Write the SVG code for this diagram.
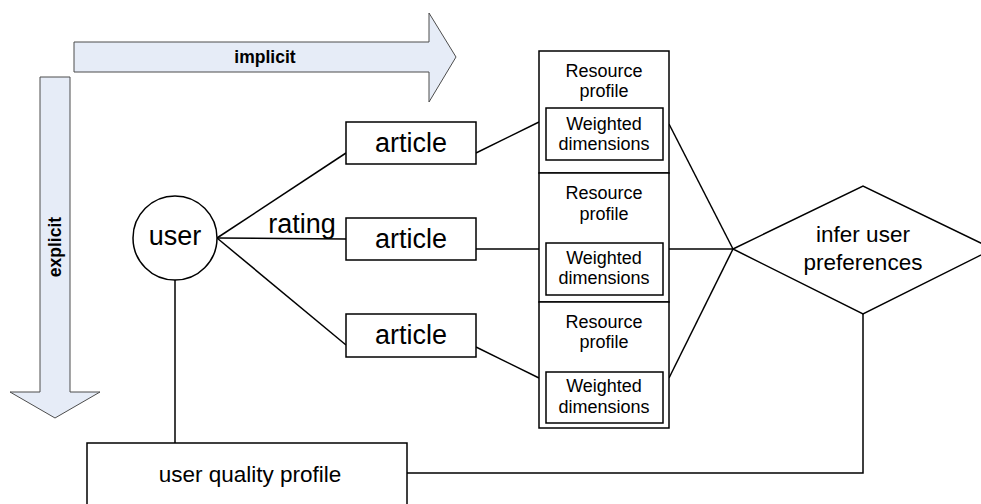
<svg xmlns="http://www.w3.org/2000/svg" width="981" height="504" viewBox="0 0 981 504">
  <style>
    .bg { fill: #ffffff; }
    .arrow { fill: #e6ecf7; stroke: #4d4d4d; stroke-width: 1; }
    .box { fill: #ffffff; stroke: #000000; stroke-width: 1.5; }
    .wire { fill: none; stroke: #000000; stroke-width: 1.5; }
    text { font-family: "Liberation Sans", Arial, sans-serif; fill: #000000; text-anchor: middle; }
    .bold { font-weight: bold; font-size: 17.5px; }
    .big { font-size: 27px; }
    .mid { font-size: 22.5px; }
    .small { font-size: 18px; }
  </style>
  <rect class="bg" x="0" y="0" width="981" height="504"/>

  <!-- direction arrows -->
  <g id="implicit-arrow">
    <polygon class="arrow" points="74,42 429,42 429,13 456,57 429,102 429,72 74,72"/>
    <text class="bold" x="265" y="63">implicit</text>
  </g>
  <g id="explicit-arrow">
    <polygon class="arrow" points="40,77 70,77 70,392 100,392 55,418 10,392 40,392"/>
    <text class="bold" transform="translate(61,247) rotate(-90)">explicit</text>
  </g>

  <!-- connectors -->
  <g id="connectors">
    <line class="wire" x1="217" y1="238" x2="346" y2="153"/>
    <line class="wire" x1="217" y1="238" x2="346" y2="239"/>
    <line class="wire" x1="217" y1="238" x2="346" y2="345"/>
    <line class="wire" x1="476" y1="153" x2="539" y2="122"/>
    <line class="wire" x1="476" y1="249" x2="539" y2="249"/>
    <line class="wire" x1="476" y1="347" x2="539" y2="378"/>
    <line class="wire" x1="669" y1="124" x2="733" y2="249"/>
    <line class="wire" x1="669" y1="249" x2="733" y2="249"/>
    <line class="wire" x1="669" y1="378" x2="733" y2="249"/>
    <line class="wire" x1="175" y1="280" x2="175" y2="443"/>
    <polyline class="wire" points="863,314 863,473 407,473"/>
    <text class="big" x="302" y="233">rating</text>
  </g>

  <!-- user -->
  <g id="user">
    <circle class="box" cx="175" cy="238" r="42"/>
    <text class="big" x="175" y="245">user</text>
  </g>

  <!-- articles -->
  <g id="article-1">
    <rect class="box" x="346" y="122" width="130" height="42"/>
    <text class="big" x="411" y="152">article</text>
  </g>
  <g id="article-2">
    <rect class="box" x="346" y="218" width="130" height="42"/>
    <text class="big" x="411" y="248">article</text>
  </g>
  <g id="article-3">
    <rect class="box" x="346" y="314" width="130" height="43"/>
    <text class="big" x="411" y="344">article</text>
  </g>

  <!-- resource profiles -->
  <g id="resource-profile-1">
    <rect class="box" x="539" y="51" width="130" height="122"/>
    <text class="small" x="604" y="77">Resource</text>
    <text class="small" x="604" y="97">profile</text>
    <rect class="box" x="546" y="108" width="117" height="52"/>
    <text class="small" x="604" y="130">Weighted</text>
    <text class="small" x="604" y="150">dimensions</text>
  </g>
  <g id="resource-profile-2">
    <rect class="box" x="539" y="173" width="130" height="129"/>
    <text class="small" x="604" y="199">Resource</text>
    <text class="small" x="604" y="220">profile</text>
    <rect class="box" x="546" y="243" width="117" height="52"/>
    <text class="small" x="604" y="264">Weighted</text>
    <text class="small" x="604" y="284">dimensions</text>
  </g>
  <g id="resource-profile-3">
    <rect class="box" x="539" y="302" width="130" height="126"/>
    <text class="small" x="604" y="328">Resource</text>
    <text class="small" x="604" y="348">profile</text>
    <rect class="box" x="546" y="372" width="117" height="51"/>
    <text class="small" x="604" y="392">Weighted</text>
    <text class="small" x="604" y="413">dimensions</text>
  </g>

  <!-- inference step -->
  <g id="infer-user-preferences">
    <polygon class="box" points="733,249 863,186 993,249 863,314"/>
    <text class="mid" x="863" y="242">infer user</text>
    <text class="mid" x="863" y="270">preferences</text>
  </g>

  <!-- user quality profile -->
  <g id="user-quality-profile">
    <rect class="box" x="87" y="443" width="320" height="70"/>
    <text class="mid" x="250" y="482">user quality profile</text>
  </g>
</svg>
